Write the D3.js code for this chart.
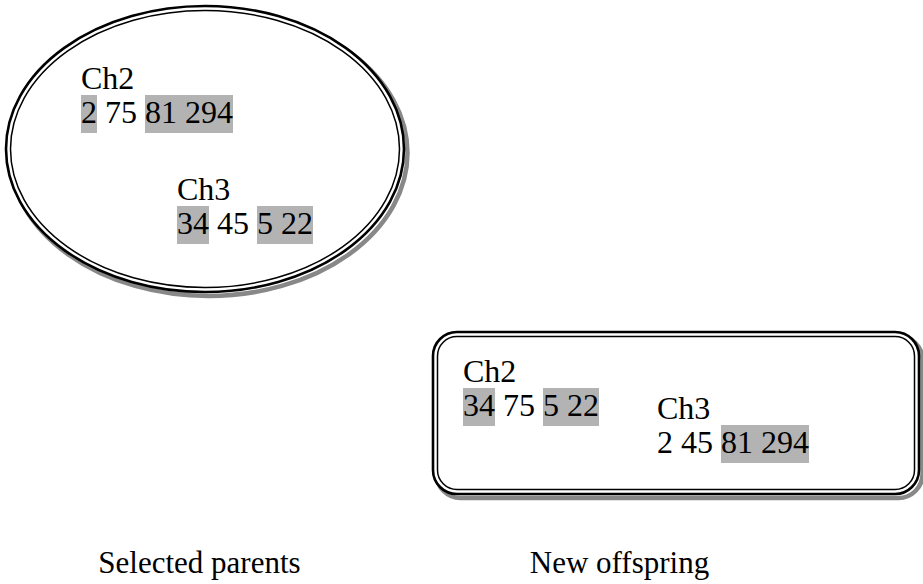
<!DOCTYPE html>
<html>
<head>
<meta charset="utf-8">
<script src="https://cdn.jsdelivr.net/npm/d3@7"></script>
<style>
html,body{margin:0;padding:0;background:#fff;}
svg{display:block;}
svg text{font-family:"Liberation Serif","Times New Roman","DejaVu Serif",serif;}
</style>
</head>
<body>
<svg id="chart" width="923" height="584"></svg>
<script>
// ---- Data ----
const groupTitles = ["Selected parents", "New offspring"];
const chromosomeLabels = ["Ch2", "Ch3"];
// parents
const parentCh2Genes = ["2", "75", "81", "294"];
const parentCh2Shaded = [true, false, true, true];
const parentCh3Genes = ["34", "45", "5", "22"];
const parentCh3Shaded = [true, false, true, true];
// offspring
const childCh2Genes = ["34", "75", "5", "22"];
const childCh2Shaded = [true, false, true, true];
const childCh3Genes = ["2", "45", "81", "294"];
const childCh3Shaded = [false, false, true, true];

const FS = 32;
const SHADE = "#b3b3b3";
const SHADOW = "#888888";

const svg = d3.select("#chart");

// ---- Ellipse (selected parents) ----
const ell = {cx: 205, cy: 149, rx: 199, ry: 143};
svg.append("ellipse").attr("cx", ell.cx + 3.5).attr("cy", ell.cy + 4)
  .attr("rx", ell.rx).attr("ry", ell.ry)
  .attr("fill", "none").attr("stroke", SHADOW).attr("stroke-width", 4.5);
svg.append("ellipse").attr("cx", ell.cx).attr("cy", ell.cy)
  .attr("rx", ell.rx).attr("ry", ell.ry)
  .attr("fill", "#fff").attr("stroke", "#000").attr("stroke-width", 2.6);
svg.append("ellipse").attr("cx", ell.cx).attr("cy", ell.cy)
  .attr("rx", ell.rx - 4.5).attr("ry", ell.ry - 4.5)
  .attr("fill", "none").attr("stroke", "#000").attr("stroke-width", 1.5);

// ---- Rounded rectangle (new offspring) ----
const box = {x: 433, y: 332, w: 486, h: 162, r: 24};
svg.append("rect").attr("x", box.x + 3.5).attr("y", box.y + 4)
  .attr("width", box.w).attr("height", box.h).attr("rx", box.r)
  .attr("fill", "none").attr("stroke", SHADOW).attr("stroke-width", 4.5);
svg.append("rect").attr("x", box.x).attr("y", box.y)
  .attr("width", box.w).attr("height", box.h).attr("rx", box.r)
  .attr("fill", "#fff").attr("stroke", "#000").attr("stroke-width", 2.6);
svg.append("rect").attr("x", box.x + 4.5).attr("y", box.y + 4.5)
  .attr("width", box.w - 9).attr("height", box.h - 9).attr("rx", box.r - 4.5)
  .attr("fill", "none").attr("stroke", "#000").attr("stroke-width", 1.5);

// ---- text helpers ----
function measure(str) {
  const t = svg.append("text").attr("font-size", FS).text(str);
  const w = t.node().getComputedTextLength();
  t.remove();
  return w;
}
const spaceW = measure("0 0") - measure("00");

function chromosome(label, genes, shaded, x, labelY, genesY) {
  const g = svg.append("g");
  g.append("text").attr("x", x).attr("y", labelY)
    .attr("font-size", FS).attr("fill", "#000").text(label);
  let cur = x;
  const pos = genes.map(s => { const w = measure(s); const p = {s, x: cur, w}; cur += w + spaceW; return p; });
  const runs = [];
  pos.forEach((p, i) => {
    if (!shaded[i]) return;
    if (i > 0 && shaded[i - 1] && runs.length) runs[runs.length - 1].x1 = p.x + p.w;
    else runs.push({x0: p.x, x1: p.x + p.w});
  });
  g.selectAll("rect.shade").data(runs).join("rect").attr("class", "shade")
    .attr("x", d => d.x0).attr("y", genesY - 28)
    .attr("width", d => d.x1 - d.x0).attr("height", 38).attr("fill", SHADE);
  g.selectAll("text.gene").data(pos).join("text").attr("class", "gene")
    .attr("x", d => d.x).attr("y", genesY)
    .attr("font-size", FS).attr("fill", "#000").text(d => d.s);
}

chromosome(chromosomeLabels[0], parentCh2Genes, parentCh2Shaded, 81, 89, 123);
chromosome(chromosomeLabels[1], parentCh3Genes, parentCh3Shaded, 177, 200, 234);
chromosome(chromosomeLabels[0], childCh2Genes, childCh2Shaded, 463, 382, 416);
chromosome(chromosomeLabels[1], childCh3Genes, childCh3Shaded, 657, 419, 453);

// ---- group titles ----
const titleX = d3.scalePoint().domain(groupTitles).range([199.5, 619.5]);
svg.selectAll("text.title").data(groupTitles).join("text").attr("class", "title")
  .attr("x", d => titleX(d)).attr("y", 573).attr("text-anchor", "middle")
  .attr("font-size", 31).attr("fill", "#000").text(d => d);
</script>
</body>
</html>
